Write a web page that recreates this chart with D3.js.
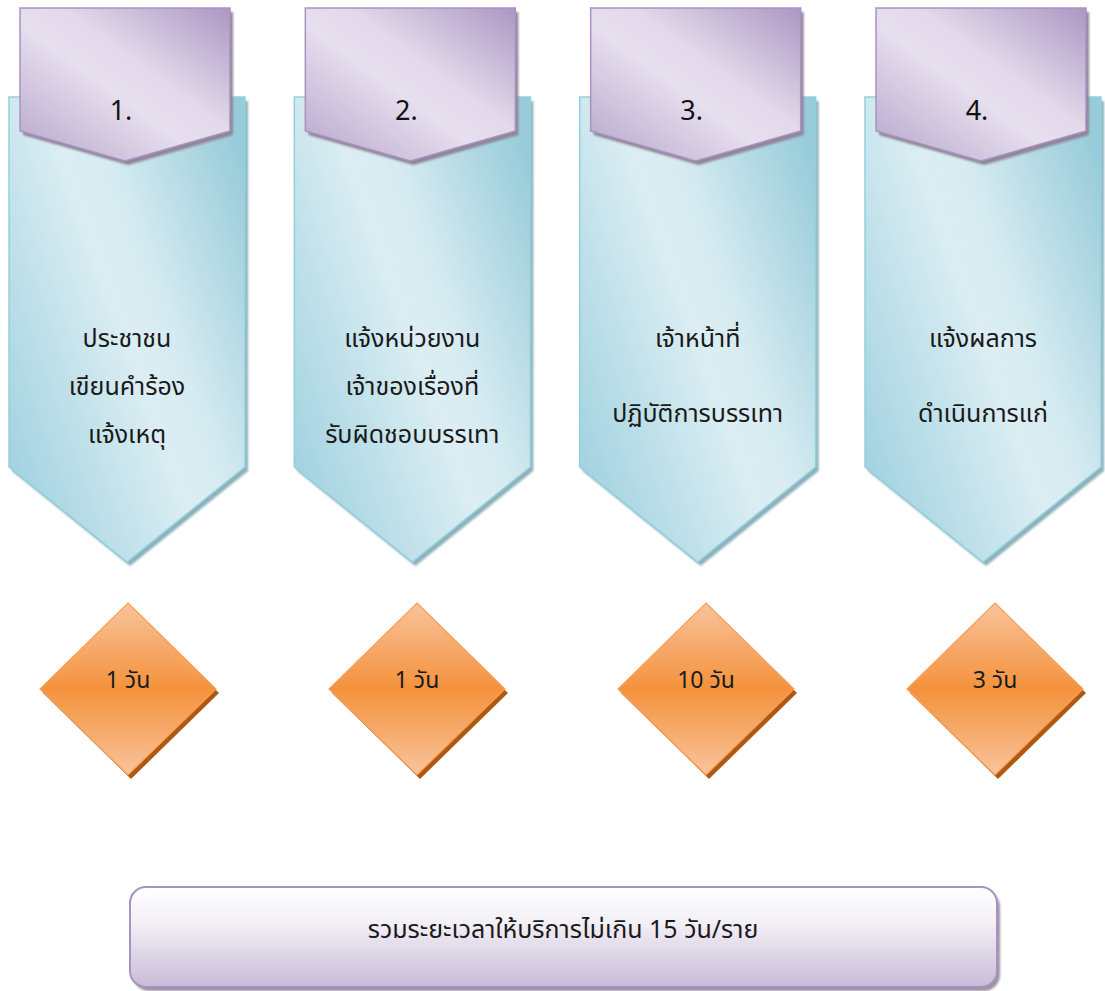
<!DOCTYPE html>
<html><head><meta charset="utf-8">
<script src="https://cdn.jsdelivr.net/npm/d3@7"></script>
<style>html,body{margin:0;padding:0;background:#fff;}svg{display:block;}</style>
</head><body>
<script>
// ---- data ----
const steps = ["1.", "2.", "3.", "4."];
const descriptions = [
  ["ประชาชน", "เขียนคำร้อง", "แจ้งเหตุ"],
  ["แจ้งหน่วยงาน", "เจ้าของเรื่องที่", "รับผิดชอบบรรเทา"],
  ["เจ้าหน้าที่", "ปฏิบัติการบรรเทา"],
  ["แจ้งผลการ", "ดำเนินการแก่"]
];
const durations = [1, 1, 10, 3];
const durationUnit = "วัน";
const totalLabel = "รวมระยะเวลาให้บริการไม่เกิน 15 วัน/ราย";

// ---- layout ----
const W = 1105, H = 991;
const svg = d3.select("body").append("svg").attr("width", W).attr("height", H);
const font = "'Noto Sans', 'Noto Sans Thai', Tahoma, sans-serif";

const x = d3.scalePoint().domain(steps).range([127, 983]);
const xd = d3.scalePoint().domain(steps).range([128, 995]);

const defs = svg.append("defs");
function lin(id, x1, y1, x2, y2, stops) {
  const g = defs.append("linearGradient").attr("id", id)
    .attr("x1", x1).attr("y1", y1).attr("x2", x2).attr("y2", y2);
  stops.forEach(s => g.append("stop").attr("offset", s[0]).attr("stop-color", s[1]));
}
lin("gBlue", 0, 0.85, 1, 0.15, [[0, "#9fd1df"], [0.5, "#dceef3"], [0.62, "#d6ebf1"], [1, "#98ccda"]]);
lin("gPurple", 0, 1, 1, 0, [[0, "#b5a3ca"], [0.45, "#e6dfee"], [0.6, "#e2d9ea"], [1, "#ab97c3"]]);
lin("gOrange", 0, 0, 0, 1, [[0, "#f9c39b"], [0.5, "#f4923c"], [1, "#f9c49d"]]);
lin("gBox", 0, 0, 0, 1, [[0, "#ffffff"], [0.35, "#f3f0f6"], [1, "#c9bbd8"]]);

const blur = defs.append("filter").attr("id", "soft").attr("x", "-10%").attr("y", "-10%").attr("width", "130%").attr("height", "130%");
blur.append("feGaussianBlur").attr("stdDeviation", 0.8);

function pentagon(cx, w, top, side, tip) {
  const l = cx - w / 2, r = cx + w / 2;
  return [[l, top], [r, top], [r, side], [cx, tip], [l, side]];
}
const line = d3.line();

const g = svg.append("g");
steps.forEach((s, i) => {
  const cx = x(s);
  // blue body
  const body = pentagon(cx, 236, 97, 467, 562);
  g.append("path").attr("d", line(body.map(p => [p[0] + 3, p[1] + 4])) + "Z")
    .attr("fill", "#8db1bb").attr("filter", "url(#soft)");
  g.append("path").attr("d", line(body) + "Z")
    .attr("fill", "url(#gBlue)").attr("stroke", "#93d0de").attr("stroke-width", 1.5);
  // purple header
  const head = pentagon(cx - 2, 210, 8, 131, 161);
  g.append("path").attr("d", line(head.map(p => [p[0] + 3, p[1] + 4])) + "Z")
    .attr("fill", "#8f8698").attr("filter", "url(#soft)");
  g.append("path").attr("d", line(head) + "Z")
    .attr("fill", "url(#gPurple)").attr("stroke", "#a892c2").attr("stroke-width", 1.5);
  g.append("text").attr("x", cx - 6).attr("y", 120).attr("text-anchor", "middle")
    .attr("font-family", font).attr("font-size", 27).attr("fill", "#111").text(s);
  // description
  const lines = descriptions[i];
  const gap = lines.length === 3 ? 48 : 75;
  lines.forEach((t, k) => {
    g.append("text").attr("x", cx).attr("y", 347 + k * gap).attr("text-anchor", "middle")
      .attr("font-family", font).attr("font-size", 25).attr("fill", "#1a1a1a").text(t);
  });
  // diamond
  const dx = xd(s), dy = 689, hw = 88, hh = 86;
  const dia = [[dx, dy - hh], [dx + hw, dy], [dx, dy + hh], [dx - hw, dy]];
  g.append("path").attr("d", line(dia.map(p => [p[0] + 3, p[1] + 4])) + "Z").attr("fill", "#b05810");
  g.append("path").attr("d", line(dia) + "Z").attr("fill", "url(#gOrange)")
    .attr("stroke", "#f5a05a").attr("stroke-width", 1.2);
  g.append("text").attr("x", dx).attr("y", dy - 1).attr("text-anchor", "middle")
    .attr("font-family", font).attr("font-size", 23).attr("fill", "#1a1a1a")
    .text(durations[i] + " " + durationUnit);
});

// total box
g.append("rect").attr("x", 133).attr("y", 891).attr("width", 867).attr("height", 100)
  .attr("rx", 16).attr("fill", "#9a94a2").attr("filter", "url(#soft)");
g.append("rect").attr("x", 130).attr("y", 887).attr("width", 867).attr("height", 100)
  .attr("rx", 16).attr("fill", "url(#gBox)").attr("stroke", "#a793c1").attr("stroke-width", 2);
g.append("text").attr("x", 563).attr("y", 938).attr("text-anchor", "middle")
  .attr("font-family", font).attr("font-size", 25).attr("fill", "#1a1a1a").text(totalLabel);
</script>
</body></html>
